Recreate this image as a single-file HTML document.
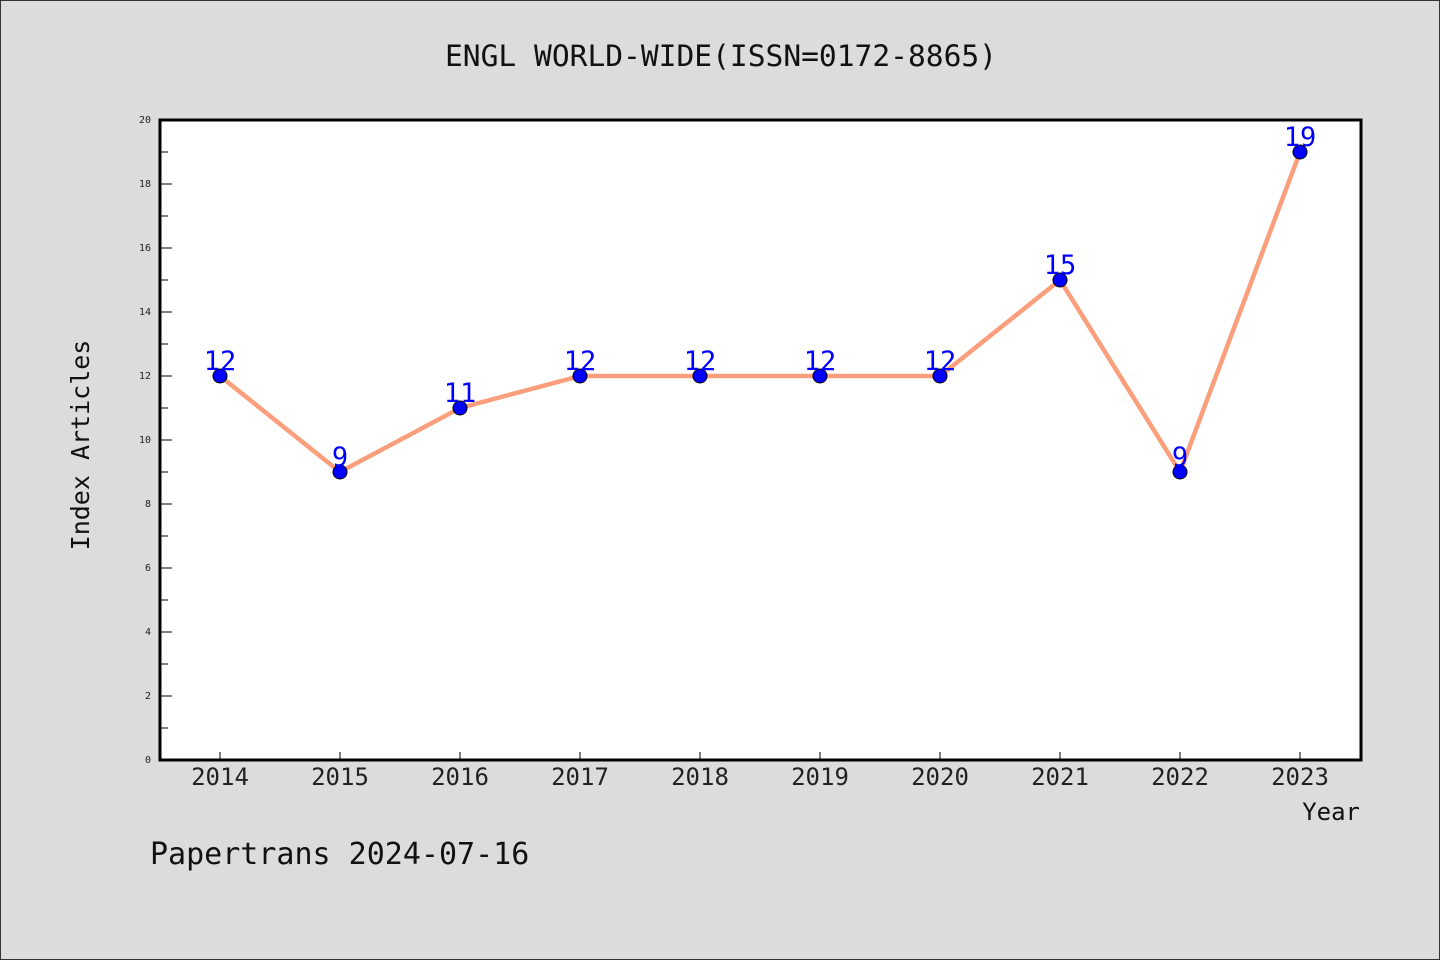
<!DOCTYPE html>
<html><head><meta charset="utf-8"><style>
html,body{margin:0;padding:0;background:#dcdcdc}
svg{display:block;font-family:"WenQuanYi Zen Hei Mono","WenQuanYi Zen Hei","DejaVu Sans Mono",monospace}
</style></head><body>
<svg id="chart" width="1440" height="960" viewBox="0 0 1440 960">
<rect x="0.5" y="0.5" width="1439" height="959" fill="#dcdcdc" stroke="#333"/>
<text x="445" y="66" font-size="29" textLength="552" lengthAdjust="spacingAndGlyphs" fill="#111">ENGL WORLD-WIDE(ISSN=0172-8865)</text>
<rect x="160" y="120" width="1201" height="640" fill="#fff"/>
<g id="axes"></g>
<g id="series"></g>
<rect x="160" y="120" width="1201" height="640" fill="none" stroke="#000" stroke-width="3"/>
<text x="89" y="445" font-size="25" text-anchor="middle" fill="#111" transform="rotate(-90 89 445)">Index Articles</text>
<text x="1360" y="820" font-size="24" text-anchor="end" fill="#111">Year</text>
<text x="150" y="864" font-size="30" fill="#111">Papertrans 2024-07-16</text>
</svg>
<script>
const years = ["2014","2015","2016","2017","2018","2019","2020","2021","2022","2023"];
const articles = [12, 9, 11, 12, 12, 12, 12, 15, 9, 19];
const yTicks = [0, 2, 4, 6, 8, 10, 12, 14, 16, 18, 20];

const NS = "http://www.w3.org/2000/svg";
const x0 = 220, xStep = 120, yBase = 760, yTop = 120, yMax = 20;
const xScale = i => x0 + i * xStep;
const yScale = v => yBase - (v / yMax) * (yBase - yTop);
function mk(tag, attrs, parent){const e=document.createElementNS(NS,tag);for(const k in attrs)e.setAttribute(k,attrs[k]);parent.appendChild(e);return e;}
const axes = document.getElementById("axes"), series = document.getElementById("series");

yTicks.forEach(v => {
  const y = yScale(v);
  const t = mk("line",{x1:160,x2:172,y1:y,y2:y,stroke:"#000","stroke-width":1},axes);
  
  
  const l = mk("text",{x:151,y:y+3,"font-size":10,"text-anchor":"end",fill:"#222"},axes);
  l.textContent = v;
  
  
  if (v < yMax) {
    const ym = yScale(v + 1);
    const m = mk("line",{x1:160,x2:168,y1:ym,y2:ym,stroke:"#000","stroke-width":1},axes);
    
    
  }
});
years.forEach((yr, i) => {
  const x = xScale(i);
  const t = mk("line",{x1:x,x2:x,y1:760,y2:752,stroke:"#000","stroke-width":1},axes);
  
  
  const l = mk("text",{x:x,y:785,"font-size":24,"text-anchor":"middle",fill:"#222"},axes);
  l.textContent = yr;
  
  
});
const pts = articles.map((v,i)=>xScale(i)+","+yScale(v)).join(" ");
const line = mk("polyline",{points:pts,fill:"none",stroke:"#fa9e7b","stroke-width":4.5,"stroke-linejoin":"round"},series);


articles.forEach((v,i)=>{
  const c = mk("circle",{cx:xScale(i),cy:yScale(v),r:7,fill:"#0000ff",stroke:"#000","stroke-width":1},series);
  
  
  const l = mk("text",{x:xScale(i),y:yScale(v)-6,"font-size":27,"text-anchor":"middle",fill:"#0000ff"},series);
  l.textContent = v;
  
  
});
</script>
</body></html>
